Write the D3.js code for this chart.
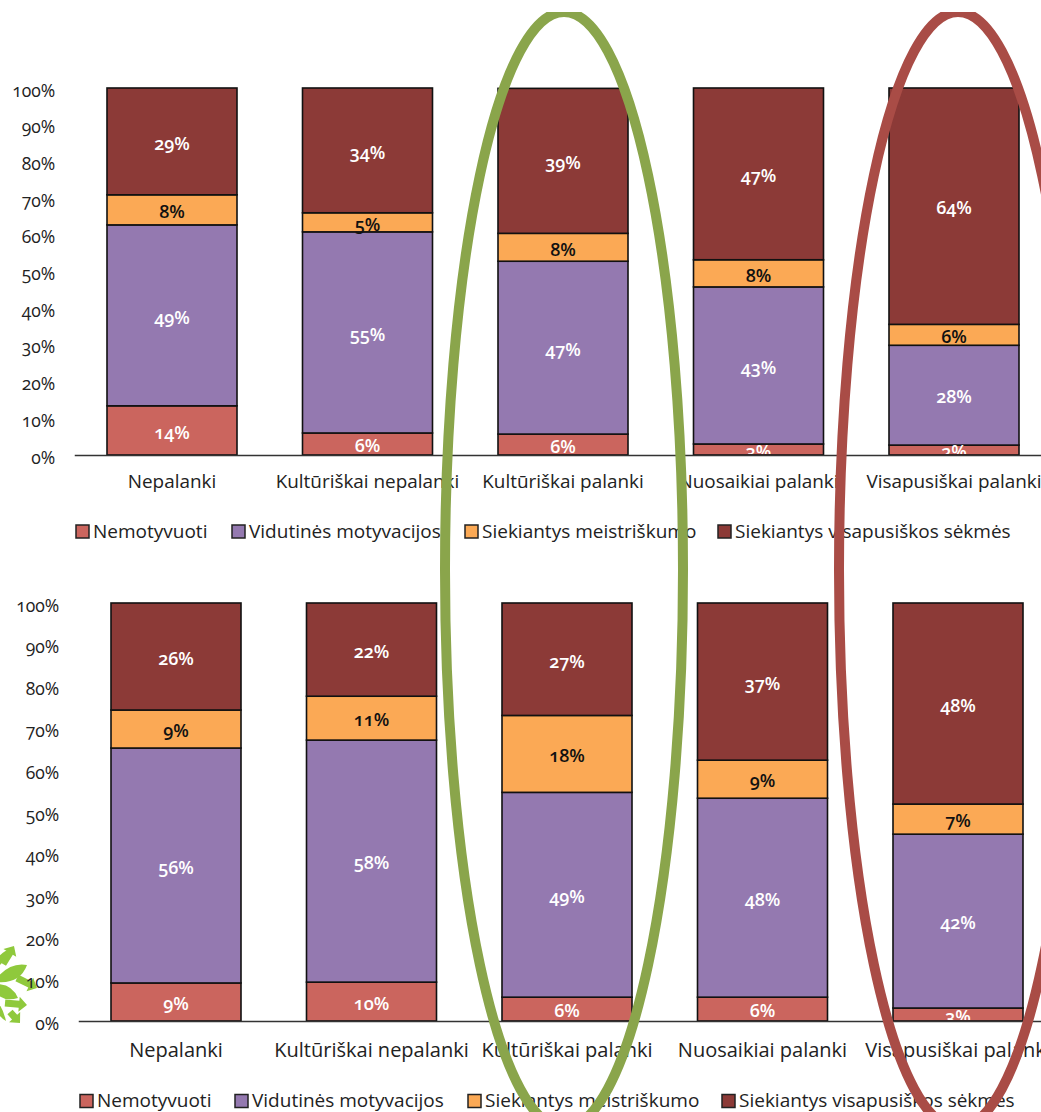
<!DOCTYPE html>
<html>
<head>
<meta charset="utf-8">
<script src="https://cdn.jsdelivr.net/npm/d3@7"></script>
<style>
  html, body { margin: 0; padding: 0; background: #fff; overflow: hidden; }
  text { font-family: "Open Sans", sans-serif; font-variant-numeric: oldstyle-nums; }
</style>
</head>
<body>
<svg id="chart" width="1041" height="1112"></svg>
<script>
const categories = ["Nepalanki", "Kultūriškai nepalanki", "Kultūriškai palanki", "Nuosaikiai palanki", "Visapusiškai palanki"];
const seriesNames = ["Nemotyvuoti", "Vidutinės motyvacijos", "Siekiantys meistriškumo", "Siekiantys visapusiškos sėkmės"];
const seriesColors = ["#cb655e", "#9479b0", "#fba955", "#8c3a37"];
const labelColors = ["#fff", "#fff", "#111", "#fff"];

// values, labels as printed on the bars
const topNemotyvuoti = [13.4, 6.0, 5.7, 3.0, 2.7];
const topVidutines = [49.3, 54.8, 47.1, 42.8, 27.2];
const topMeistriskumo = [8.2, 5.2, 7.6, 7.4, 5.7];
const topSekmes = [29.1, 34.0, 39.5, 46.8, 64.4];
const topLabels = [
  ["14%", "6%", "6%", "3%", "2%"],
  ["49%", "55%", "47%", "43%", "28%"],
  ["8%", "5%", "8%", "8%", "6%"],
  ["29%", "34%", "39%", "47%", "64%"]
];

const bottomNemotyvuoti = [9.1, 9.3, 5.7, 5.7, 3.1];
const bottomVidutines = [56.2, 57.9, 49.0, 47.6, 41.6];
const bottomMeistriskumo = [9.1, 10.5, 18.4, 9.1, 7.2];
const bottomSekmes = [25.6, 22.3, 26.9, 37.6, 48.1];
const bottomLabels = [
  ["9%", "10%", "6%", "6%", "3%"],
  ["56%", "58%", "49%", "48%", "42%"],
  ["9%", "11%", "18%", "9%", "7%"],
  ["26%", "22%", "27%", "37%", "48%"]
];

const yTicks = [0, 10, 20, 30, 40, 50, 60, 70, 80, 90, 100];

const svg = d3.select("#chart");

// logo fragment at the left edge, sits under the chart text
const logo = svg.append("g").attr("fill", "#8fc93c");
[
  "M-3,978Q10,962 27,965Q20,984 -3,982Z",
  "M-3,984Q12,984 18,998Q5,1002 -3,994Z",
  "M-3,1001Q3,1008 6,1021Q-1,1017 -3,1010Z",
  "M-3,958Q5,950 10,949Q7,959 -3,968Z"
].forEach(d => logo.append("path").attr("d", d));
[[3, 964, 14, 946], [17, 978, 37, 988], [5, 1003, 27, 1005], [10, 1012, 20, 1023]].forEach(p => {
  const a = Math.atan2(p[3] - p[1], p[2] - p[0]) * 180 / Math.PI;
  const len = Math.hypot(p[2] - p[0], p[3] - p[1]);
  logo.append("path").attr("d", `M0,-3.5H${len - 8}V-7.5L${len},0L${len - 8},7.5V3.5H0Z`)
    .attr("transform", `translate(${p[0]},${p[1]}) rotate(${a})`);
});

function drawChart(cfg) {
  const { series, labels, left, right, y0, y100, catY, catSize, legendY, legendX, id } = cfg;
  const g = svg.append("g").attr("id", id);

  const xScale = d3.scaleBand().domain(categories).range([left, right]).paddingInner(1 - 130 / 195.5).paddingOuter((1 - 130 / 195.5) / 2);
  const yScale = d3.scaleLinear().domain([0, 100]).range([y0, y100]);

  const rows = categories.map((c, i) => {
    const row = { category: c };
    seriesNames.forEach((s, k) => { row[s] = series[k][i]; });
    return row;
  });
  const stacked = d3.stack().keys(seriesNames)(rows);

  const layer = g.selectAll("g.layer").data(stacked).join("g").attr("class", "layer");
  layer.selectAll("rect").data(d => d).join("rect")
    .attr("x", d => xScale(d.data.category))
    .attr("y", d => yScale(d[1]))
    .attr("width", xScale.bandwidth())
    .attr("height", d => yScale(d[0]) - yScale(d[1]))
    .attr("fill", (d, i, n) => seriesColors[seriesNames.indexOf(d3.select(n[i].parentNode).datum().key)])
    .attr("stroke", "#111")
    .attr("stroke-width", 1.6);

  // y axis, no line, no tick marks
  const yAxis = g.append("g").attr("transform", `translate(${left - 19},0)`)
    .call(d3.axisLeft(yScale).tickValues(yTicks).tickSize(0).tickPadding(0).tickFormat(d => d + "%"));
  yAxis.select(".domain").remove();
  yAxis.selectAll("text").attr("font-size", 17.5).attr("fill", "#222").attr("dy", "0.46em");

  // x axis line and category names
  const xAxis = g.append("g").attr("transform", `translate(0,${y0})`)
    .call(d3.axisBottom(xScale).tickSize(0).tickPadding(catY - y0));
  xAxis.select(".domain").attr("stroke", "#333").attr("stroke-width", 1.6);
  xAxis.selectAll("text").attr("font-size", catSize).attr("fill", "#222");

  // percent labels, clipped at the axis like the original
  const clipId = "clip" + id;
  g.append("clipPath").attr("id", clipId).append("rect")
    .attr("x", 0).attr("y", y100).attr("width", 1041).attr("height", y0 - y100 - 1);
  const labelG = g.append("g").attr("clip-path", `url(#${clipId})`);
  stacked.forEach((s, k) => {
    labelG.selectAll(null).data(s).join("text")
      .attr("x", d => xScale(d.data.category) + xScale.bandwidth() / 2)
      .attr("y", d => yScale((d[0] + d[1]) / 2))
      .attr("dy", "0.46em")
      .attr("text-anchor", "middle")
      .attr("font-size", 18)
      .attr("font-weight", 600)
      .attr("fill", labelColors[k])
      .text((d, i) => labels[k][i]);
  });

  // legend
  const legend = g.selectAll("g.leg").data(seriesNames).join("g").attr("class", "leg")
    .attr("transform", (d, i) => `translate(${legendX[i]},${legendY})`);
  legend.append("rect").attr("x", 0).attr("y", -6).attr("width", 13).attr("height", 13)
    .attr("fill", (d, i) => seriesColors[i]).attr("stroke", "#222").attr("stroke-width", 1.5);
  legend.append("text").attr("x", 17).attr("y", 0).attr("dy", "0.36em")
    .attr("font-size", 19).attr("fill", "#222").text(d => d);
}

drawChart({
  id: "top",
  series: [topNemotyvuoti, topVidutines, topMeistriskumo, topSekmes],
  labels: topLabels,
  left: 74.25, right: 1051.75, y0: 455, y100: 88, catY: 475, catSize: 18.9,
  legendY: 531, legendX: [76, 232, 465, 718]
});

drawChart({
  id: "bottom",
  series: [bottomNemotyvuoti, bottomVidutines, bottomMeistriskumo, bottomSekmes],
  labels: bottomLabels,
  left: 78.25, right: 1055.75, y0: 1021, y100: 603, catY: 1043, catSize: 20,
  legendY: 1100.5, legendX: [80, 235, 468, 722]
});

// hand drawn ovals over the charts, cut off at the top of the slide
svg.append("clipPath").attr("id", "ovalClip").append("rect")
  .attr("x", 0).attr("y", 12).attr("width", 1041).attr("height", 1100);
const ovals = [
  { cx: 564, cy: 570, rx: 119, ry: 558, color: "#8aa54b" },
  { cx: 958, cy: 570, rx: 119, ry: 558, color: "#a94c46" }
];
svg.append("g").attr("clip-path", "url(#ovalClip)")
  .selectAll("ellipse").data(ovals).join("ellipse")
  .attr("cx", d => d.cx).attr("cy", d => d.cy).attr("rx", d => d.rx).attr("ry", d => d.ry)
  .attr("fill", "none").attr("stroke", d => d.color).attr("stroke-width", 10);
</script>
</body>
</html>
